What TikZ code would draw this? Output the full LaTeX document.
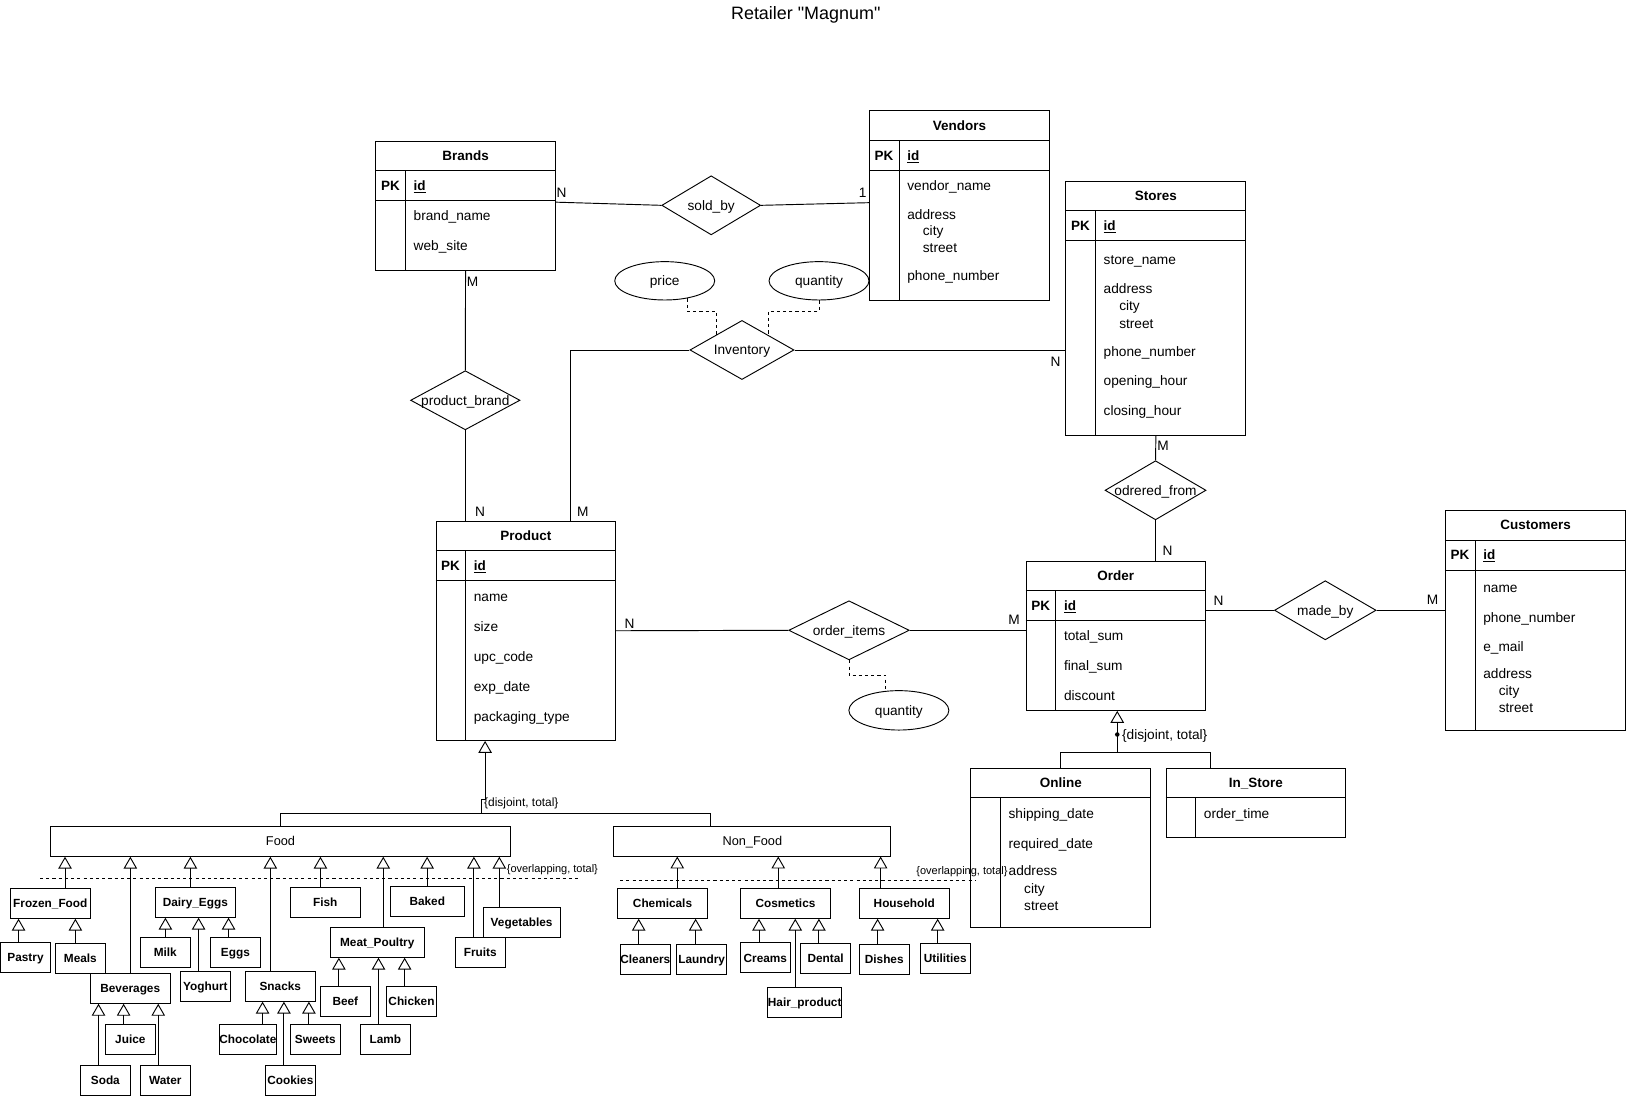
\documentclass[tikz,border=0pt]{standalone}
\usepackage{fontspec}
\setmainfont{Liberation Sans}
\newfontfamily\erplainfamily{Liberation Sans}
\usetikzlibrary{shapes.geometric,arrows.meta,calc}

\newcommand{\erattrfont}{\fontsize{13.2}{15.8}\selectfont}
\newcommand{\erkeyfont}{\fontsize{13}{15.6}\selectfont\bfseries}
\newcommand{\ersubfont}{\fontsize{11.4}{13.7}\selectfont\bfseries}
\newcommand{\ersmallfont}{\fontsize{10.6}{12.7}\selectfont}

% entity table: name, x, y (top left), width, height, title
\newcommand{\erentity}[6]{%
  \node[entity, minimum width=#4pt, minimum height=#5pt] (#1) at (#2,#3) {};
  \node[etitle] (#1-title) at ($(#1.north)+(0,14.5)$) {#6};
  \draw ($(#1.north west)+(0,29)$) -- ($(#1.north east)+(0,29)$);
  \draw ($(#1.north west)+(29,29)$) -- ($(#1.south west)+(29,0)$);
}
% primary key row
\newcommand{\erkey}[1]{%
  \node[etitle] (#1-pk) at ($(#1.north west)+(14.5,43.5)$) {PK};
  \node[attr, font=\erkeyfont] (#1-id) at ($(#1.north west)+(36.5,43.5)$) {\underline{id}};
  \draw ($(#1.north west)+(0,58)$) -- ($(#1.north east)+(0,58)$);
}

\begin{document}
\begin{tikzpicture}[x=1pt, y=-1pt, line width=0.9pt, font=\erattrfont,
    entity/.style={draw, rectangle, anchor=north west, inner sep=0pt},
    etitle/.style={inner sep=0pt, font=\erkeyfont, text height=9.3pt, text depth=0pt},
    attr/.style={anchor=base west, inner sep=0pt, yshift=-4.7pt},
    rel/.style={draw, diamond, inner sep=0pt, minimum height=57pt},
    attrell/.style={draw, ellipse, inner sep=0pt, minimum width=96.4pt, text height=9.4pt, text depth=0pt},
    subcls/.style={draw, rectangle, inner sep=0pt, minimum height=29pt, font=\ersubfont, text height=8.2pt, text depth=0pt},
    card/.style={inner sep=0pt, text height=9.4pt, text depth=0pt},
    note/.style={anchor=west, inner sep=0pt, text height=8pt, text depth=0pt},
    every label/.style={inner sep=0pt, text height=9.4pt, text depth=0pt},
    gen/.style={-{Triangle[open, length=11.5pt, width=13pt]}},
    attrlink/.style={dash pattern=on 3pt off 3pt}]

\useasboundingbox (0,0) rectangle (1568,1057);

\node[inner sep=0pt, font=\erplainfamily\fontsize{17.3}{20}\selectfont] (title) at (777,14.5) {Retailer "Magnum"};

% entities
\erentity{brands}{362}{135.5}{173}{125}{Brands}
\erkey{brands}
\foreach \x/\y/\t [count=\i] in {398.5/208.3/brand\_name, 398.5/237.3/web\_site}
  \node[attr] (brands-a\i) at (\x,\y) {\t};

\erentity{vendors}{838}{106.5}{173.5}{183}{Vendors}
\erkey{vendors}
\foreach \x/\y/\t [count=\i] in {874.5/179.4/vendor\_name, 874.5/206.7/address, 889.5/222.8/city,
    889.5/238.8/street, 874.5/266.1/phone\_number}
  \node[attr] (vendors-a\i) at (\x,\y) {\t};

\erentity{stores}{1027.4}{174.2}{173.6}{245.3}{Stores}
\erkey{stores}
\foreach \x/\y/\t [count=\i] in {1063.9/250/store\_name, 1063.9/278.7/address, 1078.9/295.1/city,
    1078.9/311.8/street, 1063.9/338.8/phone\_number, 1063.9/367.4/opening\_hour, 1063.9/396.3/closing\_hour}
  \node[attr] (stores-a\i) at (\x,\y) {\t};

\erentity{product}{420}{502}{173.2}{211.6}{Product}
\erkey{product}
\foreach \x/\y/\t [count=\i] in {456.5/575.4/name, 456.5/604.3/size, 456.5/633.2/upc\_code,
    456.5/662.2/exp\_date, 456.5/691.1/packaging\_type}
  \node[attr] (product-a\i) at (\x,\y) {\t};

\erentity{order}{989.1}{540.7}{172.9}{143.9}{Order}
\erkey{order}
\foreach \x/\y/\t [count=\i] in {1025.6/613.3/total\_sum, 1025.6/642.2/final\_sum, 1025.6/671.2/discount}
  \node[attr] (order-a\i) at (\x,\y) {\t};

\erentity{customers}{1393.4}{491.8}{174}{212.2}{Customers}
\erkey{customers}
\foreach \x/\y/\t [count=\i] in {1429.9/566.4/name, 1429.9/595.3/phone\_number, 1429.9/623.6/e\_mail,
    1429.9/650/address, 1444.9/666.3/city, 1444.9/682.4/street}
  \node[attr] (customers-a\i) at (\x,\y) {\t};

\erentity{online}{935.7}{740.3}{173.6}{153.9}{Online}
\foreach \x/\y/\t [count=\i] in {972.2/784.3/shipping\_date, 972.2/813.2/required\_date, 972.2/840/address,
    987.2/856.6/city, 987.2/873.3/street}
  \node[attr] (online-a\i) at (\x,\y) {\t};

\erentity{instore}{1124}{740.3}{173.3}{66.7}{In\_Store}
\node[attr] (instore-a1) at (1160.5,784.3) {order\_time};

% relationships
\node[rel, minimum width=95.3pt, label={center:sold\_by}] (soldby) at (685.8,198) {};
\node[rel, minimum width=105.5pt, label={center:product\_brand}] (productbrand) at (448.7,386) {};
\node[rel, minimum width=100.4pt, label={center:Inventory}] (inventory) at (715.5,337.5) {};
\node[rel, minimum width=116.3pt, label={center:order\_items}] (orderitems) at (818.7,607.8) {};
\node[rel, minimum width=97.4pt, label={center:odrered\_from}] (odreredfrom) at (1114.3,472.8) {};
\node[rel, minimum width=98pt, label={center:made\_by}] (madeby) at (1278,588.5) {};

% attributes of relationships
\node[attrell, minimum height=37pt] (price) at (641,270.8) {price};
\node[attrell, minimum height=37pt] (qty1) at (789.8,270.8) {quantity};
\node[attrell, minimum height=38pt] (qty2) at (866.8,685) {quantity};
\draw[attrlink] (price.-38.3) -- ++(0,12.2) -| (inventory.149.9);
\draw[attrlink] (qty1.south) -- ++(0,10.3) -| (inventory.30.4);
\draw[attrlink] (orderitems.south) -- ++(0,14.6) -| (qty2.124.3);

% connectors
\draw ([yshift=3.5pt]brands.east) -- (soldby.west);
\draw (soldby.east) -- ([yshift=3pt]vendors.west);
\draw (brands.south) -- (productbrand.north);
\draw (productbrand.south) -- (productbrand.south |- product.north);
\draw (inventory.west) -| ($(product.north west)+(130,0)$);
\draw (inventory.east) -- (inventory.east -| stores.west);
\draw (stores.south) -- (odreredfrom.north);
\draw (odreredfrom.south) -- (odreredfrom.south |- order.north);
\draw (product.east) -- (orderitems.west);
\draw (orderitems.east) -- (orderitems.east -| order.west);
\draw (madeby.west -| order.east) -- (madeby.west);
\draw (madeby.east) -- (madeby.east -| customers.west);

% cardinalities
\node[card] (c1) at (541.5,185.5) {N};
\node[card] (c2) at (832,185.5) {1};
\node[card] (c3) at (455.6,271.6) {M};
\node[card] (c4) at (463,493) {N};
\node[card] (c5) at (562,493) {M};
\node[card] (c6) at (1017.8,348.8) {N};
\node[card] (c7) at (1121.5,430) {M};
\node[card] (c8) at (1126,531) {N};
\node[card] (c9) at (607.2,601) {N};
\node[card] (c10) at (977.8,597.9) {M};
\node[card] (c11) at (1175.2,579.5) {N};
\node[card] (c12) at (1381.5,578.6) {M};

% order specialization
\coordinate (ordergen) at (1077.4,725.5);
\draw (online.north) |- (ordergen);
\draw (1167,0 |- instore.north) |- (ordergen);
\draw[gen] (ordergen) -- (ordergen |- order.south);
\fill (1077.4,708.3) circle (2.2pt);
\node[note] (ordernote) at (1081.6,708.8) {\{disjoint, total\}};

% product specialization
\node[draw, rectangle, inner sep=0pt, minimum width=444pt, minimum height=29pt,
  font=\fontsize{12.3}{14.8}\selectfont, text height=8.8pt, text depth=0pt] (food) at (270.5,811.2) {Food};
\node[draw, rectangle, inner sep=0pt, minimum width=267pt, minimum height=29pt,
  font=\fontsize{12.3}{14.8}\selectfont, text height=8.8pt, text depth=0pt] (nonfood) at (725.5,811) {Non\_Food};
\coordinate (prodgen) at (464.1,784.5);
\draw (food.north) |- (prodgen) -- (685,784.5) -- (685,0 |- nonfood.north);
\draw[gen] (prodgen) -- (464.1,771) -- (467.8,771) -- (467.8,0 |- product.south);
\node[note, font=\fontsize{11.5}{13.8}\selectfont] (prodnote) at (466.5,773.7) {\{disjoint, total\}};

\foreach \n/\x/\y/\w/\t in {frozen/48.5/871/77/Frozen\_Food, dairy/188.4/870/77/Dairy\_Eggs,
    fish/313.7/870/67.5/Fish, baked/412/869.2/71/Baked, veg/503/889.3/74/Vegetables,
    pastry/24.6/923/48/Pastry, meals/77.5/924/48/Meals, bev/125.6/953/77/Beverages,
    milk/159.4/918.2/48/Milk, eggs/227/918.2/48/Eggs, yoghurt/198/951/48/Yoghurt,
    snacks/270.3/951/67.5/Snacks, meat/363.8/908.6/90.4/Meat\_Poultry, fruits/463.1/918.2/48/Fruits,
    beef/333/965.5/48/Beef, chicken/396.8/965.5/48/Chicken, juice/125.7/1002/48/Juice,
    choc/239/1002/53/Chocolate, sweets/304.1/1002/48/Sweets, lamb/371.6/1002/48/Lamb,
    soda/101.6/1041.7/48/Soda, water/159.4/1041.7/48/Water, cookies/280/1041.7/48/Cookies,
    chem/638.9/871/87/Chemicals, cosm/757.5/871/87/Cosmetics, house/872/871/87/Household,
    cleaners/622.3/925/48/Cleaners, laundry/676.6/925/48/Laundry, creams/738/923.6/48/Creams,
    dental/796.2/924.2/48/Dental, hair/776/966.5/62.7/Hair\_product, dishes/852.7/925.2/48/Dishes,
    utilities/911.5/924.2/48/Utilities}
  \node[subcls, minimum width=\w pt] (\n) at (\x,\y) {\t};

\foreach \x/\s/\p in {62.7/frozen/food, 125.7/bev/food, 183.6/dairy/food, 260.7/snacks/food,
    309/fish/food, 369.6/meat/food, 411.9/baked/food, 457/fruits/food, 481.5/veg/food,
    17.9/pastry/frozen, 72.7/meals/frozen, 159.5/milk/dairy, 191.5/yoghurt/dairy, 220.4/eggs/dairy,
    95/soda/bev, 119.2/juice/bev, 152.6/water/bev, 253.2/choc/snacks, 273.8/cookies/snacks,
    297.9/sweets/snacks, 326.8/beef/meat, 365/lamb/meat, 390.2/chicken/meat,
    653.1/chem/nonfood, 750.5/cosm/nonfood, 849.2/house/nonfood, 615.9/cleaners/chem,
    670.8/laundry/chem, 731.9/creams/cosm, 766.9/hair/cosm, 789.7/dental/cosm,
    846.3/dishes/house, 904.2/utilities/house}
  \draw[gen] (\x,0 |- \s.north) -- (\x,0 |- \p.south);

\draw[attrlink] (38.6,847) -- (557,847);
\node[note, font=\ersmallfont] (foodnote) at (488.3,837.3) {\{overlapping, total\}};
\draw[attrlink] (598,848.6) -- (941,848.6);
\node[note, font=\ersmallfont] (nonfoodnote) at (883.3,839.6) {\{overlapping, total\}};

\end{tikzpicture}
\end{document}
